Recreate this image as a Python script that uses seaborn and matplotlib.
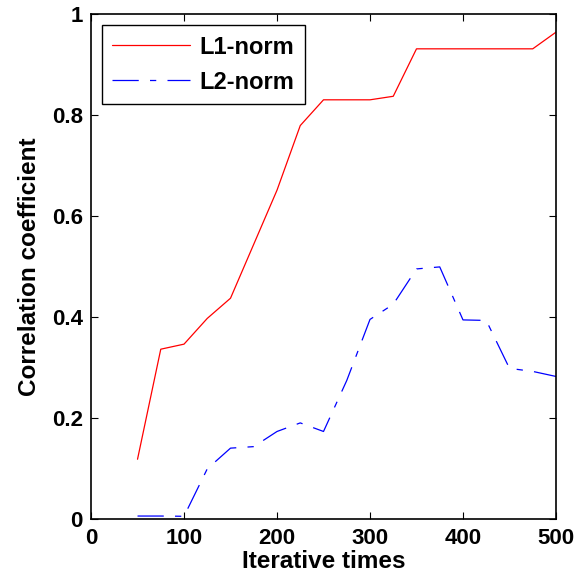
import numpy as np
import pandas as pd
import seaborn as sns
import matplotlib
matplotlib.use("Agg")
import matplotlib.pyplot as plt

# values
iterations = [50, 75, 100, 125, 150, 175, 200, 225, 250, 275, 300, 325, 350,
              375, 400, 425, 450, 475, 500]
l1_norm = [0.119, 0.337, 0.347, 0.398, 0.438, 0.545, 0.652, 0.780, 0.831, 0.831,
           0.831, 0.838, 0.932, 0.932, 0.932, 0.932, 0.932, 0.932, 0.965]
l2_norm = [0.0065, 0.0065, 0.006, 0.100, 0.141, 0.144, 0.174, 0.191, 0.174, 0.275,
           0.396, 0.426, 0.496, 0.500, 0.395, 0.394, 0.299, 0.293, 0.283]


def main():
    sns.set_theme(style="ticks")
    plt.rcParams['font.family'] = ['Liberation Sans', 'DejaVu Sans']
    plt.rcParams['font.weight'] = 'bold'
    plt.rcParams['text.color'] = 'black'
    plt.rcParams['axes.labelcolor'] = 'black'

    fig = plt.figure(figsize=(5.85, 5.87), dpi=100)
    ax = fig.add_axes([0.1556, 0.1153, 0.7948, 0.86])

    df = pd.DataFrame({"x": iterations, "L1": l1_norm, "L2": l2_norm})
    sns.lineplot(data=df, x="x", y="L1", ax=ax, color="#ff0000", lw=0.9,
                 label="L1-norm")
    sns.lineplot(data=df, x="x", y="L2", ax=ax, color="#0000ff", lw=0.9,
                 dashes=(21, 9, 5, 9), label="L2-norm")

    ax.set_xlim(0, 500)
    ax.set_ylim(0, 1)
    ax.set_xticks([0, 100, 200, 300, 400, 500])
    ax.set_yticks([0, 0.2, 0.4, 0.6, 0.8, 1])
    ax.set_yticklabels(["0", "0.2", "0.4", "0.6", "0.8", "1"])
    ax.tick_params(direction="in", length=5, width=0.8, top=True, right=True,
                   labelsize=16, pad=6, colors="black")
    for lab in ax.get_xticklabels() + ax.get_yticklabels():
        lab.set_fontweight("bold")
    for s in ax.spines.values():
        s.set_linewidth(1.2)
        s.set_color("black")

    ax.set_xlabel("Iterative times", fontsize=17.5, fontweight="bold", labelpad=1,
                  color="black")
    ax.set_ylabel("Correlation coefficient", fontsize=17.5, fontweight="bold",
                  labelpad=8, color="black")

    leg = ax.legend(loc="upper left", fontsize=17, handlelength=3.3,
                    fancybox=False, framealpha=1, edgecolor="black",
                    borderaxespad=0.45, borderpad=0.45, labelspacing=0.5,
                    handletextpad=0.4)
    leg.get_frame().set_linewidth(1.0)
    for t in leg.get_texts():
        t.set_fontweight("bold")
        t.set_color("black")

    fig.savefig("out.png", dpi=100)
    plt.close(fig)


if __name__ == "__main__":
    main()
